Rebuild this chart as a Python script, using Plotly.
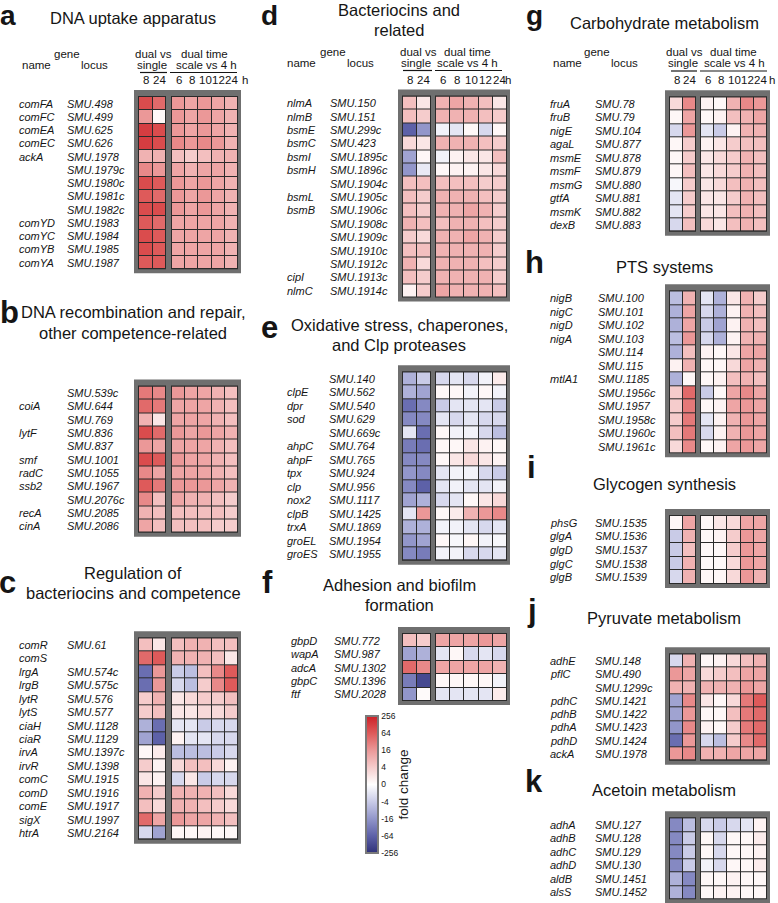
import plotly.graph_objects as go

W, H = 778, 903
FONT = "Arial, Liberation Sans, sans-serif"

# ---------------- data (log2 fold change) ----------------
single_cols = ["8", "24"]
time_cols = ["6", "8", "10", "12", "24"]
cbar_vals = [-8, -6, -4, -2, 0, 2, 4, 6, 8]
cbar_text = ["-256", "-64", "-16", "-4", "0", "4", "16", "64", "256"]

a_names = ["comFA", "comFC", "comEA", "comEC", "ackA", "", "", "", "", "comYD", "comYC", "comYB", "comYA"]
a_loci = ["SMU.498", "SMU.499", "SMU.625", "SMU.626", "SMU.1978", "SMU.1979c", "SMU.1980c", "SMU.1981c",
          "SMU.1982c", "SMU.1983", "SMU.1984", "SMU.1985", "SMU.1987"]
a_single = [[6.5, 5.5], [4, 0.3], [7, 6.5], [7, 6.5], [3, 3], [4.5, 4], [6.5, 6], [6, 5.5], [6.5, 6.5],
            [6, 5.5], [6.5, 6], [6.5, 6], [6, 6]]
a_time = [[4, 3.5, 4, 3.5, 3], [4, 3.5, 4, 3.5, 3], [4, 3.5, 4, 3.5, 3], [4.5, 4, 4.5, 4, 3],
          [2.5, 2, 2.5, 3, 3], [3.5, 3, 3.5, 3.5, 3], [4, 3.5, 4, 3.5, 3], [4, 3.5, 4, 3.5, 3],
          [4, 3.5, 4, 3.5, 3], [3.5, 3.5, 3.5, 3.5, 3], [3.5, 3.5, 3.5, 3.5, 3], [3.5, 3.5, 3.5, 3.5, 3],
          [3.5, 3.5, 3.5, 3.5, 3]]

b_names = ["", "coiA", "", "lytF", "", "smf", "radC", "ssb2", "", "recA", "cinA"]
b_loci = ["SMU.539c", "SMU.644", "SMU.769", "SMU.836", "SMU.837", "SMU.1001", "SMU.1055", "SMU.1967",
          "SMU.2076c", "SMU.2085", "SMU.2086"]
b_single = [[5, 4.5], [5.5, 5], [3, 1], [6.5, 5.5], [4, 3.5], [6.5, 6], [4.5, 3.5], [6, 5], [4.5, 2.5],
            [3, 2.5], [3.5, 2.5]]
b_time = [[4, 3.5, 3.5, 3, 2.5], [3.5, 3.5, 3.5, 3, 2.5], [3.5, 3.5, 3.5, 3, 2.5], [4, 3.5, 4, 3.5, 3],
          [3.5, 3.5, 3.5, 3, 2.5], [4, 3.5, 3.5, 3, 2.5], [3.5, 3.5, 3.5, 3, 2.5], [4, 4, 4, 3.5, 3],
          [3.5, 3, 3, 2.5, 2], [2.5, 2.5, 2.5, 2.5, 2], [2.5, 2.5, 2.5, 2, 2]]

c_names = ["comR", "comS", "lrgA", "lrgB", "lytR", "lytS", "ciaH", "ciaR", "irvA", "irvR", "comC", "comD",
           "comE", "sigX", "htrA"]
c_loci = ["SMU.61", "", "SMU.574c", "SMU.575c", "SMU.576", "SMU.577", "SMU.1128", "SMU.1129", "SMU.1397c",
          "SMU.1398", "SMU.1915", "SMU.1916", "SMU.1917", "SMU.1997", "SMU.2164"]
c_single = [[2.5, 1], [5.5, 6], [-5.5, 4], [-5.5, 4], [2, 3], [2, 2.5], [-3, -5.5], [-3.5, -6], [0.3, 0.8],
            [2, 0.5], [1, 0.5], [3, 2], [2.5, 1.5], [5.5, 3.5], [-1.5, -3.5]]
c_time = [[2.5, 3, 3, 2.5, 2.5], [3, 3, 3, 2.5, 1], [-2, -2.5, 2.5, 4.5, 6], [-1.5, -2.5, 2, 4.5, 6],
          [1, 1.5, 2, 2, 2.5], [1, 1, 1.5, 1.5, 2], [-1, -1, -2, -1.5, -1.5], [0.5, -1, -1, -1.5, -1.5],
          [-2.5, -2.5, -2.5, -2, -1.5], [1.5, 2.5, 2.5, 1.5, 0.5], [-1.5, 1, -2, -1.5, -1.5],
          [3, 3, 3, 2.5, 1.5], [3, 3, 2.5, 2, 1.5], [4, 3.5, 3.5, 3, 2.5], [0.3, 0.3, 0.5, 0.3, 0.3]]

d_names = ["nlmA", "nlmB", "bsmE", "bsmC", "bsmI", "bsmH", "", "bsmL", "bsmB", "", "", "", "", "cipI", "nlmC"]
d_loci = ["SMU.150", "SMU.151", "SMU.299c", "SMU.423", "SMU.1895c", "SMU.1896c", "SMU.1904c", "SMU.1905c",
          "SMU.1906c", "SMU.1908c", "SMU.1909c", "SMU.1910c", "SMU.1912c", "SMU.1913c", "SMU.1914c"]
d_single = [[2.5, 1], [2.5, 2], [-6, -4], [1.5, 1], [-3.5, 0.3], [-4, -0.8], [2.5, 2.5], [2.5, 2], [2.5, 2],
            [3, 2.5], [2, 1.5], [2.5, 2.5], [3, 1.5], [2.5, 2], [0.5, 2]]
d_time = [[3, 3.5, 3, 2.5, 1], [3, 3, 3, 2.5, 2], [-0.5, -1, 0.3, -1.5, 0.3], [3, 3, 3, 2.5, 2],
          [-0.5, 0.5, 1, 1, 2.5], [0.3, 0.5, 0.5, 1, 1.5], [2.5, 2.5, 2.5, 2, 2], [3, 3, 3, 2.5, 2],
          [3, 3, 3.5, 3, 2], [2.5, 3, 3, 2.5, 2], [3, 3, 3.5, 3, 2], [3, 3, 3, 3, 2], [3, 3, 3, 2.5, 2],
          [3, 3, 3, 3, 2], [3.5, 3, 3, 3, 2.5]]

e_names = ["", "clpE", "dpr", "sod", "", "ahpC", "ahpF", "tpx", "clp", "nox2", "clpB", "trxA", "groEL", "groES"]
e_loci = ["SMU.140", "SMU.562", "SMU.540", "SMU.629", "SMU.669c", "SMU.764", "SMU.765", "SMU.924", "SMU.956",
          "SMU.1117", "SMU.1425", "SMU.1869", "SMU.1954", "SMU.1955"]
e_single = [[-3, -2], [-3, -3.5], [-5.5, -4.5], [-4.5, -4.5], [-1, -5.5], [-5, -5.5], [-4.5, -4.5],
            [-4, -4.5], [-4.5, -6], [-3.5, -3], [-1, 4], [-3, -3], [-4, -3.5], [-4.5, -5]]
e_time = [[-1.5, -1, -1.5, -0.5, 0.8], [0.3, 0.3, -0.5, 0.3, -0.5], [-2, -1, -1, -1, -2],
          [-1, -1.5, -1, -1.5, -1.5], [0.3, -0.5, -0.5, -1.5, -2.5], [0.3, 0.3, 1, 0.5, 0.3],
          [0.3, 1, 1.5, 1, 0.5], [-1, -0.5, -0.5, -1.5, -2], [-1, -0.5, -1, -1, -0.5], [-1.5, -1, 0.3, 1, 1.5],
          [0.3, 0.8, 3, 4, 4.5], [-0.5, -0.5, -1, -1.5, -1], [0.3, -0.3, 0.3, -0.5, -0.3],
          [-0.5, -0.5, -1.5, -1.5, -1]]

f_names = ["gbpD", "wapA", "adcA", "gbpC", "ftf"]
f_loci = ["SMU.772", "SMU.987", "SMU.1302", "SMU.1396", "SMU.2028"]
f_single = [[2.5, 2], [-3.5, -3], [5.5, 4.5], [-5, -7], [-4, 0.2]]
f_time = [[3.5, 3.5, 3.5, 4, 3.5], [-1, 0.3, -1.5, -1, -1.5], [3.5, 3.5, 3.5, 3.5, 3],
          [0.3, 0.3, 0.3, 0.3, -0.5], [-1, -1, -1, -1, 0.8]]

g_names = ["fruA", "fruB", "nigE", "agaL", "msmE", "msmF", "msmG", "gtfA", "msmK", "dexB"]
g_loci = ["SMU.78", "SMU.79", "SMU.104", "SMU.877", "SMU.878", "SMU.879", "SMU.880", "SMU.881", "SMU.882",
          "SMU.883"]
g_single = [[1.5, 4.5], [0.3, 3.5], [-1.5, 4], [0.3, 2], [0.3, 2], [0.3, 2.5], [-0.3, 2], [-1, 2], [-1, 2],
            [-1.5, 2.5]]
g_time = [[0.5, 0.3, 3, 4.5, 4], [0.3, 0.5, 2.5, 3, 3.5], [-1, -2, 0.5, 3, 3], [0.5, 1, 2, 2.5, 2.5],
          [1, 1.5, 2, 3, 2.5], [1, 1.5, 2, 3, 2.5], [1, 1.5, 2.5, 3, 2.5], [1, 1, 2, 3, 2.5],
          [1, 1, 2.5, 3, 2.5], [1.5, 1, 2.5, 3, 2.5]]

h_names = ["nigB", "nigC", "nigD", "nigA", "", "", "mtlA1", "", "", "", "", ""]
h_loci = ["SMU.100", "SMU.101", "SMU.102", "SMU.103", "SMU.114", "SMU.115", "SMU.1185", "SMU.1956c",
          "SMU.1957", "SMU.1958c", "SMU.1960c", "SMU.1961c"]
h_single = [[-2.5, 3], [-3, 3.5], [-3, 3.5], [-2.5, 4], [-3, 2.5], [0.5, 3], [-3, 0.3], [2, 5.5], [2, 5],
            [2, 5], [2.5, 5], [1.5, 4.5]]
h_time = [[-1, -3, 1, 3, 2], [-1.5, -3, 0.5, 3, 2.5], [-2, -3.5, 0.5, 3, 2.5], [-1.5, -3, 0.5, 3, 3],
          [0.5, 0.3, 1, 3.5, 3.5], [0.3, 0.3, 1.5, 3.5, 3], [0.3, 0.5, 2.5, 3, 2.5], [-2, 0.3, 3.5, 4.5, 3.5],
          [0.3, 0.5, 3.5, 4, 3.5], [-1, 0.5, 3, 4, 3.5], [-1.5, 0.5, 3, 4, 3.5], [0.3, 0.5, 3.5, 4, 3.5]]

i_names = ["phsG", "glgA", "glgD", "glgC", "glgB"]
i_loci = ["SMU.1535", "SMU.1536", "SMU.1537", "SMU.1538", "SMU.1539"]
i_single = [[0.3, 3.5], [-2, 3], [-2, 2.5], [-2, 3], [-1.5, 3]]
i_time = [[0.3, 1, 1.5, 3.5, 3.5], [0.3, 0.5, 2, 4, 3.5], [0.3, 0.3, 2, 4, 3.5], [0.3, 0.3, 1.5, 4, 3.5],
          [0.3, 0.3, 1.5, 4, 3]]

j_names = ["adhE", "pflC", "", "pdhC", "pdhB", "pdhA", "pdhD", "ackA"]
j_loci = ["SMU.148", "SMU.490", "SMU.1299c", "SMU.1421", "SMU.1422", "SMU.1423", "SMU.1424", "SMU.1978"]
j_single = [[-1.5, 3], [4, 3.5], [3, 3], [-3.5, 4.5], [-3.5, 4], [-4, 4.5], [-5.5, 4], [4, 4.5]]
j_time = [[0.3, 0.5, 1.5, 2.5, 3], [1.5, 2, 2.5, 3.5, 3.5], [3, 3, 3, 4, 3.5], [1, 0.3, 1.5, 5, 6],
          [0.3, 0.3, 2.5, 5, 5.5], [0.5, 0.3, 2, 5, 5.5], [-1.5, -2.5, 2, 4.5, 5.5], [3, 3, 3.5, 3.5, 3.5]]

k_names = ["adhA", "adhB", "adhC", "adhD", "aldB", "alsS"]
k_loci = ["SMU.127", "SMU.128", "SMU.129", "SMU.130", "SMU.1451", "SMU.1452"]
k_single = [[-4.5, -2.5], [-4.5, -2], [-4.5, -2], [-4.5, -2], [-3, -4.5], [-3, -4.5]]
k_time = [[-1.5, -2, -1.5, -1, 0.5], [0.3, -1.5, 0.3, 0.3, 0.8], [0.3, -1.5, 0.3, 0.3, 0.5],
          [-0.5, -1.5, 0.3, 0.3, 0.8], [0.3, 0.3, 0.5, 0.3, 0.3], [0.3, 0.5, 0.5, 0.3, 0.3]]

# ---------------- layout helpers ----------------
COLGEOM = {
    1: dict(name_x=17, locus_x=65, lx0=139, lw=13.5, rx0=172, rw=13.2, title_x=133, letter_x=8),
    2: dict(name_x=285, locus_x=328, lx0=403, lw=14.0, rx0=436, rw=14.2, title_x=399, letter_x=269),
    3: dict(name_x=548, locus_x=593, lx0=670, lw=13.0, rx0=701, rw=13.2, title_x=664, letter_x=534),
}

panels = [
    dict(letter="a", col=1, top=97, rh=13.25, names=a_names, loci=a_loci, s=a_single, t=a_time,
         title=[("DNA uptake apparatus", 18)], letter_base=25, letter_size=28, header=True),
    dict(letter="b", col=1, top=386.5, rh=13.3, names=b_names, loci=b_loci, s=b_single, t=b_time,
         title=[("DNA recombination and repair,", 312), ("other competence-related", 333)],
         letter_base=323, letter_x=9),
    dict(letter="c", col=1, top=638.3, rh=13.43, names=c_names, loci=c_loci, s=c_single, t=c_time,
         title=[("Regulation of", 573), ("bacteriocins and competence", 593)], letter_base=593),
    dict(letter="d", col=2, top=96.5, rh=13.4, names=d_names, loci=d_loci, s=d_single, t=d_time,
         title=[("Bacteriocins and", 10), ("related", 30)], letter_base=25, letter_size=28, header=True),
    dict(letter="e", col=2, top=372.3, rh=13.46, names=e_names, loci=e_loci, s=e_single, t=e_time,
         title=[("Oxidative stress, chaperones,", 325), ("and Clp proteases", 345)], letter_base=338,
         locus_x=327),
    dict(letter="f", col=2, top=634, rh=13.4, names=f_names, loci=f_loci, s=f_single, t=f_time,
         title=[("Adhesion and biofilm", 585), ("formation", 605)], letter_base=593, name_x=289,
         locus_x=332, letter_x=267),
    dict(letter="g", col=3, top=97.3, rh=13.44, names=g_names, loci=g_loci, s=g_single, t=g_time,
         title=[("Carbohydrate metabolism", 23)], letter_base=25, letter_size=28, header=True),
    dict(letter="h", col=3, top=291.3, rh=13.5, names=h_names, loci=h_loci, s=h_single, t=h_time,
         title=[("PTS systems", 267)], letter_base=273, locus_x=596),
    dict(letter="i", col=3, top=516, rh=13.6, names=i_names, loci=i_loci, s=i_single, t=i_time,
         title=[("Glycogen synthesis", 484)], letter_base=478, letter_x=531),
    dict(letter="j", col=3, top=654.3, rh=13.3, names=j_names, loci=j_loci, s=j_single, t=j_time,
         title=[("Pyruvate metabolism", 618)], letter_base=621, letter_x=532),
    dict(letter="k", col=3, top=818.2, rh=13.5, names=k_names, loci=k_loci, s=k_single, t=k_time,
         title=[("Acetoin metabolism", 790)], letter_base=792),
]

# header geometry (pixel centres) for panels with header
HEADERS = {
    "a": dict(gene=(67, 54), name=(36, 65), locus=(94, 65), dv=(153, 54), sg=(152, 65), ul1=(140, 167, 72.5),
              dt=(204, 54), sc=(206, 65), ul2=(170, 237, 72.5), coly=80, hx=245),
    "d": dict(gene=(333, 52), name=(301, 63), locus=(360, 63), dv=(418, 52), sg=(416, 63), ul1=(403, 432, 70.5),
              dt=(468, 52), sc=(467, 63), ul2=(435, 502, 70.5), coly=80, hx=508),
    "g": dict(gene=(597, 52), name=(567, 63), locus=(624, 63), dv=(684, 52), sg=(683, 63), ul1=(671, 697, 71),
              dt=(733, 52), sc=(734, 63), ul2=(700, 767, 71), coly=80, hx=772),
}

colorscale = [
    [0.0, "#2f3178"], [0.125, "#5d61a8"], [0.25, "#9296ca"], [0.375, "#c9cbe7"], [0.5, "#ffffff"],
    [0.625, "#f5cccc"], [0.75, "#eb9898"], [0.875, "#de5a5a"], [1.0, "#cc2027"],
]


def px(x):
    return x / W


def py(y):
    return 1 - y / H


fig = go.Figure()
annotations = []
shapes_frame = []
shapes_dark = []
shapes_lines = []
layout_axes = {}
ax_i = 0

TXT = "#151515"


def text(x, y, s, size, xanchor="center", bold=False, italic=False, yanchor="middle"):
    if italic:
        s = "<i>" + s + "</i>"
    if bold:
        s = "<b>" + s + "</b>"
    annotations.append(dict(x=px(x), y=py(y), xref="paper", yref="paper", text=s, showarrow=False,
                            xanchor=xanchor, yanchor=yanchor, font=dict(family=FONT, size=size, color=TXT)))


for p in panels:
    g = dict(COLGEOM[p["col"]])
    for key in ("name_x", "locus_x", "letter_x"):
        if key in p:
            g[key] = p[key]
    n = len(p["loci"])
    top = p["top"]
    bot = top + n * p["rh"]
    lx0, lx1 = g["lx0"], g["lx0"] + 2 * g["lw"]
    rx0, rx1 = g["rx0"], g["rx0"] + 5 * g["rw"]

    # frame
    shapes_frame.append(dict(type="rect", xref="paper", yref="paper", x0=px(lx0 - 5), x1=px(rx1 + 3),
                             y0=py(top - 7), y1=py(bot + 4), fillcolor="#6f6f6f", line=dict(width=0),
                             layer="below"))
    for (bx0, bx1, z, ncol) in ((lx0, lx1, p["s"], 2), (rx0, rx1, p["t"], 5)):
        shapes_dark.append(dict(type="rect", xref="paper", yref="paper", x0=px(bx0 - 1), x1=px(bx1),
                                y0=py(top - 1), y1=py(bot), fillcolor="#2a2a2a", line=dict(width=0),
                                layer="below"))
        ax_i += 1
        xa = "xaxis" if ax_i == 1 else f"xaxis{ax_i}"
        ya = "yaxis" if ax_i == 1 else f"yaxis{ax_i}"
        fig.add_trace(go.Heatmap(z=z, x=list(range(ncol)), y=list(range(n)), coloraxis="coloraxis",
                                 xgap=1, ygap=1, xaxis=f"x{ax_i}" if ax_i > 1 else "x",
                                 yaxis=f"y{ax_i}" if ax_i > 1 else "y", hoverinfo="skip"))
        layout_axes[xa] = dict(domain=[px(bx0), px(bx1)], range=[-0.5, ncol - 0.5], visible=False,
                               fixedrange=True, anchor=f"y{ax_i}" if ax_i > 1 else "y")
        layout_axes[ya] = dict(domain=[py(bot), py(top)], range=[n - 0.5, -0.5], visible=False,
                               fixedrange=True, anchor=f"x{ax_i}" if ax_i > 1 else "x")

    # row labels
    for r in range(n):
        yc = top + (r + 0.5) * p["rh"]
        if p["names"][r]:
            text(g["name_x"], yc, p["names"][r], 11, xanchor="left", italic=True)
        if p["loci"][r]:
            text(g["locus_x"], yc, p["loci"][r], 11, xanchor="left", italic=True)

    # title & letter
    for (s, yy) in p["title"]:
        text(g["title_x"], yy, s, 16.5)
    LS = p.get("letter_size", 31)
    text(g["letter_x"], p["letter_base"] - 0.35 * LS, p["letter"], LS, bold=True)

    # header
    if p.get("header"):
        hd = HEADERS[p["letter"]]
        text(*hd["gene"], "gene", 11.5)
        text(*hd["name"], "name", 11.5)
        text(*hd["locus"], "locus", 11.5)
        text(*hd["dv"], "dual vs", 11.5)
        text(*hd["sg"], "single", 11.5)
        text(*hd["dt"], "dual time", 11.5)
        text(*hd["sc"], "scale vs 4 h", 11.5)
        for (u0, u1, uy) in (hd["ul1"], hd["ul2"]):
            shapes_lines.append(dict(type="line", xref="paper", yref="paper", x0=px(u0), x1=px(u1),
                                     y0=py(uy), y1=py(uy), line=dict(color=TXT, width=1.2)))
        for c, lab in enumerate(single_cols):
            text(lx0 + (c + 0.5) * g["lw"], hd["coly"], lab, 11.5)
        for c, lab in enumerate(time_cols):
            text(rx0 + (c + 0.5) * g["rw"], hd["coly"], lab, 11.5)
        text(hd["hx"], hd["coly"], "h", 11.5)

fig.update_layout(**layout_axes)
fig.update_layout(
    width=W, height=H, autosize=False,
    margin=dict(l=0, r=0, t=0, b=0),
    paper_bgcolor="white", plot_bgcolor="rgba(0,0,0,0)",
    showlegend=False,
    annotations=annotations,
    shapes=shapes_frame + shapes_dark + shapes_lines,
    font=dict(family=FONT, color=TXT),
    coloraxis=dict(
        colorscale=colorscale, cmin=-8, cmax=8,
        colorbar=dict(
            x=px(366), xanchor="left", xpad=0, y=py(784.5), yanchor="middle", ypad=0,
            lenmode="pixels", len=137, thicknessmode="pixels", thickness=12,
            outlinecolor="#7a7a7a", outlinewidth=2,
            tickvals=cbar_vals, ticktext=cbar_text, ticks="",
            tickfont=dict(family=FONT, size=8.5, color=TXT),
            title=dict(text="fold change", side="right", font=dict(family=FONT, size=13.5, color=TXT)),
        ),
    ),
)

# remove the browser's default 8px page margin so the figure sits at the window origin
fig.write_html("out.html", config={"displayModeBar": False},
               post_script="document.body.style.margin='0';document.body.style.overflow='hidden';")
